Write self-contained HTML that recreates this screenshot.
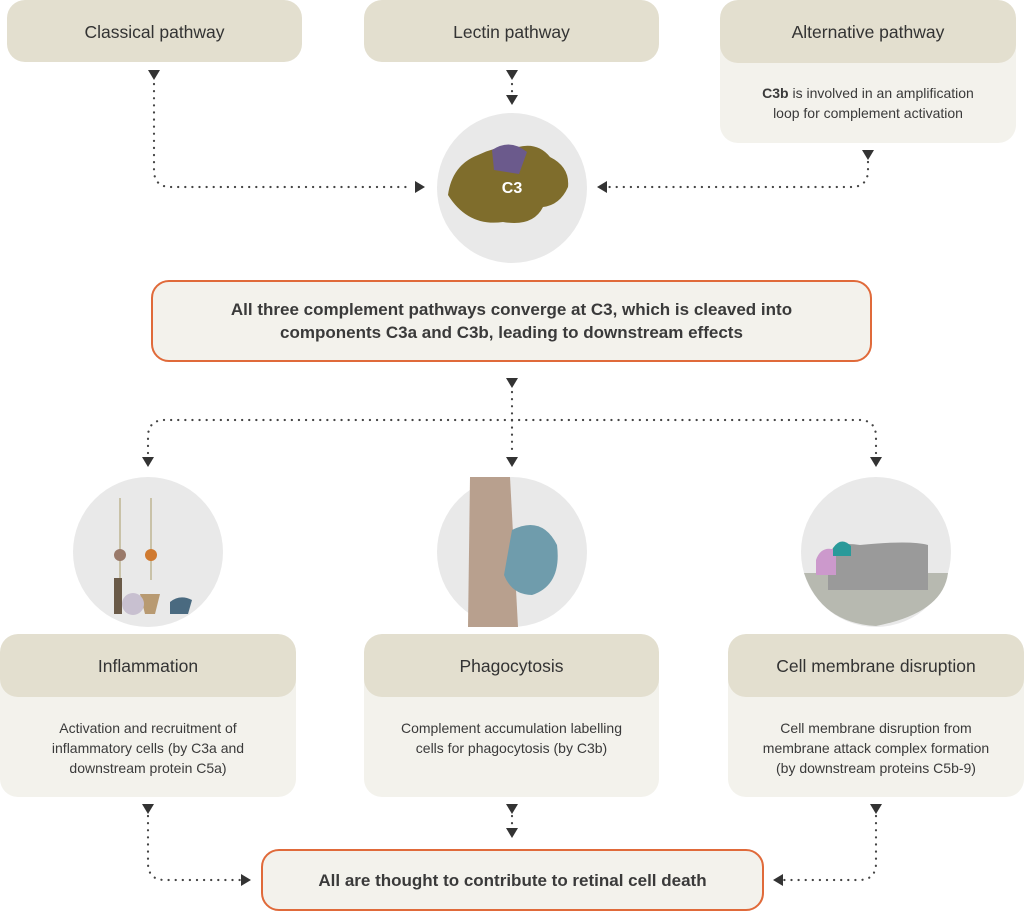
<!DOCTYPE html>
<html><head><meta charset="utf-8"><style>
html,body{margin:0;padding:0;background:#fff;}
body{width:1024px;height:912px;position:relative;overflow:hidden;font-family:"Liberation Sans",sans-serif;color:#333;}
.b{position:absolute;box-sizing:border-box;}
.h{background:#e3dfcf;border-radius:18px;display:flex;align-items:center;justify-content:center;font-size:17.5px;padding-top:3px;}
.card{position:absolute;background:#f3f2ec;border-radius:18px;overflow:hidden;}
.card .hd{height:63px;background:#e3dfcf;border-radius:18px;display:flex;align-items:center;justify-content:center;font-size:17.5px;padding-top:2px;box-sizing:border-box;}
.card .bd{text-align:center;font-size:14px;line-height:20px;padding-top:21px;color:#3a3a3a;}
.o{border:2px solid #e06a3a;background:#f3f2ec;border-radius:18px;display:flex;align-items:center;justify-content:center;text-align:center;font-size:17px;line-height:23px;font-weight:bold;color:#3a3a3a;}
</style></head><body>
<svg class="b" style="left:0;top:0" width="1024" height="912">
<g fill="none" stroke="#444" stroke-width="2.2" stroke-dasharray="0.1 7" stroke-linecap="round">
<path d="M154 84 V170 Q154 187 171 187 H412"/>
<path d="M512 84 V96"/>
<path d="M868 162 V170 Q868 187 851 187 H606"/>
<path d="M512 392 V455"/>
<path d="M512 420 H165 Q148 420 148 437 V455"/>
<path d="M512 420 H859 Q876 420 876 437 V455"/>
<path d="M148 816 V863 Q148 880 165 880 H240"/>
<path d="M512 816 V826"/>
<path d="M876 816 V863 Q876 880 859 880 H784"/>
</g>
<g fill="#333">
<path d="M148 70h12l-6 10z"/>
<path d="M506 70h12l-6 10z"/>
<path d="M506 95h12l-6 10z"/>
<path d="M415 181v12l10-6z"/>
<path d="M862 150h12l-6 10z"/>
<path d="M607 181v12l-10-6z"/>
<path d="M506 378h12l-6 10z"/>
<path d="M142 457h12l-6 10z"/>
<path d="M506 457h12l-6 10z"/>
<path d="M870 457h12l-6 10z"/>
<path d="M142 804h12l-6 10z"/>
<path d="M506 804h12l-6 10z"/>
<path d="M506 828h12l-6 10z"/>
<path d="M870 804h12l-6 10z"/>
<path d="M241 874v12l10-6z"/>
<path d="M783 874v12l-10-6z"/>
</g>
<circle cx="512" cy="188" r="75" fill="#e9e9e9"/>
<path d="M448 195 q4-30 30-40 q20-10 40-8 q20-5 32 10 q20 10 18 30 q-8 18-25 20 q-10 20-40 15 q-35 5-55-27z" fill="#7f6d2c"/>
<path d="M492 150 q18-12 35 2 l-8 22 -25-4z" fill="#6b5a8c"/>
<text x="512" y="193" font-family="Liberation Sans" font-weight="bold" font-size="16" fill="#fff" text-anchor="middle">C3</text>
<circle cx="148" cy="552" r="75" fill="#e9e9e9"/>
<g stroke="#c9c2a8" stroke-width="2"><path d="M120 498 V580"/><path d="M151 498 V580"/></g>
<circle cx="120" cy="555" r="6" fill="#9a7a6a"/><circle cx="151" cy="555" r="6" fill="#d07a30"/>
<rect x="114" y="578" width="8" height="36" fill="#6a5a48"/>
<path d="M140 594 h20 l-5 20 h-10z" fill="#b89a72"/>
<circle cx="133" cy="604" r="11" fill="#c8c0d0"/>
<path d="M170 602 q10-8 22-2 l-4 14 h-18z" fill="#4a6a80"/>
<circle cx="512" cy="552" r="75" fill="#e9e9e9"/>
<path d="M470 477 h40 l8 150 h-50z" fill="#b8a08e"/>
<path d="M512 530 q30-15 45 15 q5 40-25 50 q-20 0-28-20z" fill="#6f9cac"/>
<circle cx="876" cy="552" r="75" fill="#e9e9e9"/>
<path d="M804 573 h144 q-5 40-72 53 q-55-3-72-53z" fill="#b7b9b0"/>
<path d="M828 560 q0-20 32-15 q50-5 68 0 v45 h-100z" fill="#9a9a9a"/>
<path d="M816 560 q5-15 20-10 v25 h-20z" fill="#cc99cc"/>
<path d="M833 548 q8-12 18-2 v10 h-18z" fill="#2a9a9a"/>
</svg>
<div class="b h" style="left:7px;top:0;width:295px;height:62px">Classical pathway</div>
<div class="b h" style="left:364px;top:0;width:295px;height:62px">Lectin pathway</div>
<div class="card" style="left:720px;top:0;width:296px;height:143px"><div class="hd">Alternative pathway</div><div class="bd" style="padding-top:20px"><b>C3b</b> is involved in an amplification<br>loop for complement activation</div></div>
<div class="b o" style="left:151px;top:280px;width:721px;height:82px">All three complement pathways converge at C3, which is cleaved into<br>components C3a and C3b, leading to downstream effects</div>
<div class="card" style="left:0;top:634px;width:296px;height:163px"><div class="hd">Inflammation</div><div class="bd">Activation and recruitment of<br>inflammatory cells (by C3a and<br>downstream protein C5a)</div></div>
<div class="card" style="left:364px;top:634px;width:295px;height:163px"><div class="hd">Phagocytosis</div><div class="bd">Complement accumulation labelling<br>cells for phagocytosis (by C3b)</div></div>
<div class="card" style="left:728px;top:634px;width:296px;height:163px"><div class="hd">Cell membrane disruption</div><div class="bd">Cell membrane disruption from<br>membrane attack complex formation<br>(by downstream proteins C5b-9)</div></div>
<div class="b o" style="left:261px;top:849px;width:503px;height:62px">All are thought to contribute to retinal cell death</div>
</body></html>
